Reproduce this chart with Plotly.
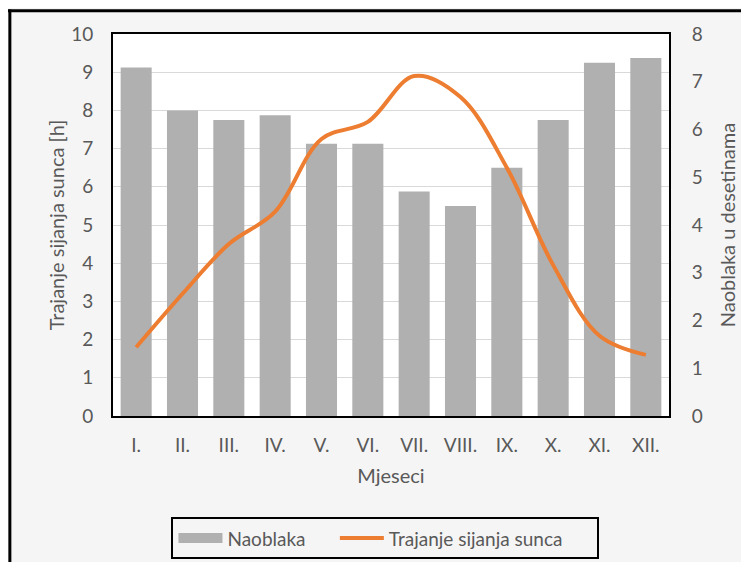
import plotly.graph_objects as go

months = ["I.", "II.", "III.", "IV.", "V.", "VI.", "VII.", "VIII.", "IX.", "X.", "XI.", "XII."]
naoblaka = [7.3, 6.4, 6.2, 6.3, 5.7, 5.7, 4.7, 4.4, 5.2, 6.2, 7.4, 7.5]
sunce = [1.8, 3.2, 4.5, 5.35, 7.25, 7.7, 8.9, 8.35, 6.5, 3.95, 2.1, 1.6]

FONT = "Lato, 'Open Sans', sans-serif"
GREY = "#595959"
BAR = "#b0b0b0"
ORANGE = "#ED7D31"
NB = "\u00a0"

fig = go.Figure()
fig.add_trace(go.Bar(
    x=months, y=naoblaka, name="Naoblaka",
    marker=dict(color=BAR, line=dict(width=0)),
    yaxis="y", showlegend=False,
))
# legend-only stand-in so the bar legend key is a wide rectangle
fig.add_trace(go.Scatter(
    x=[None], y=[None], name="Naoblaka" + NB * 5, mode="lines",
    line=dict(color=BAR, width=10), yaxis="y",
))
fig.add_trace(go.Scatter(
    x=months, y=sunce, name="Trajanje sijanja sunca" + NB * 6,
    mode="lines", line=dict(color=ORANGE, width=4, shape="spline", smoothing=1.0),
    yaxis="y2",
))

# page body has an 8px margin, so the figure is 8px smaller than the window
fig.update_layout(
    width=741, height=554,
    margin=dict(l=105, r=80, t=26, b=146, autoexpand=False),
    paper_bgcolor="#f5f5f5",
    plot_bgcolor="white",
    bargap=0.33,
    font=dict(family=FONT, color=GREY, size=19),
    showlegend=True,
    legend=dict(
        orientation="h", x=0.49, xanchor="center", y=-0.265, yanchor="top",
        bgcolor="rgba(0,0,0,0)", bordercolor="black", borderwidth=2,
        font=dict(size=19, color=GREY), traceorder="normal", itemwidth=44,
    ),
    xaxis=dict(
        automargin=False,
        showline=True, linecolor="black", linewidth=2, mirror=True,
        ticks="", tickfont=dict(size=19, color=GREY), ticklabelstandoff=11,
        title=dict(text="Mjeseci", font=dict(size=20, color=GREY), standoff=14),
    ),
    yaxis=dict(
        automargin=False,
        side="right", range=[0, 8], dtick=1, showgrid=False,
        showline=True, linecolor="black", linewidth=2,
        ticks="", tickfont=dict(size=19, color=GREY), ticklabelstandoff=17,
        title=dict(text="Naoblaka u desetinama", font=dict(size=20, color=GREY), standoff=19),
        zeroline=False,
    ),
    yaxis2=dict(
        automargin=False,
        overlaying="y", side="left", range=[0, 10], dtick=1,
        showgrid=True, gridcolor="#d9d9d9", gridwidth=1,
        showline=True, linecolor="black", linewidth=2,
        ticks="", tickfont=dict(size=19, color=GREY), ticklabelstandoff=14,
        title=dict(text="Trajanje sijanja sunca [h]", font=dict(size=20, color=GREY), standoff=1),
        zeroline=False,
    ),
)

# outer chart frame (top and left edges visible in the reference)
fig.add_shape(type="line", xref="paper", yref="paper",
              x0=-0.19, x1=1.16, y0=1.061, y1=1.061,
              line=dict(color="black", width=3))
fig.add_shape(type="line", xref="paper", yref="paper",
              x0=-0.1855, x1=-0.1855, y0=1.064, y1=-0.5,
              line=dict(color="black", width=3))

fig.write_html("out.html")
